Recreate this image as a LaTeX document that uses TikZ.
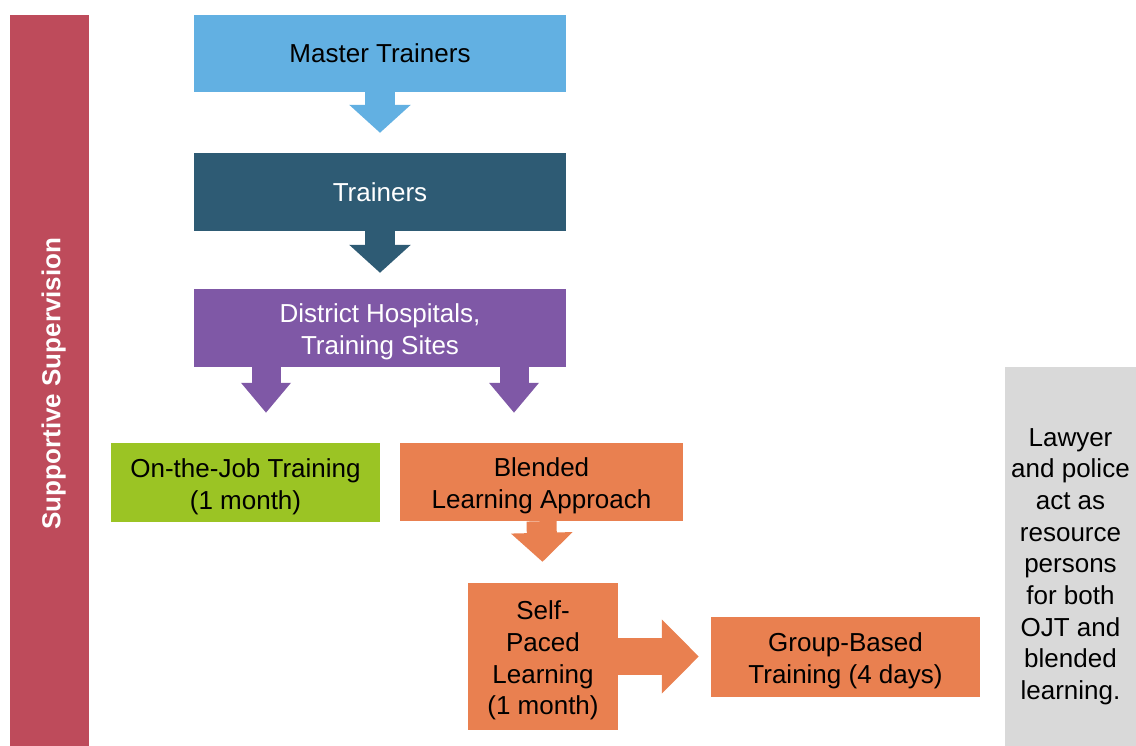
\documentclass[tikz,border=0pt]{standalone}
\usepackage{fontspec}
\setmainfont{Liberation Sans}
\usetikzlibrary{arrows.meta}

\definecolor{cSup}{HTML}{BE4B5B}
\definecolor{cMaster}{HTML}{62B0E2}
\definecolor{cTrainer}{HTML}{2E5B74}
\definecolor{cDistrict}{HTML}{7F58A6}
\definecolor{cOJT}{HTML}{9BC424}
\definecolor{cBlend}{HTML}{E98050}
\definecolor{cGray}{HTML}{D9D9D9}

\newcommand{\tstrut}{\rule{0pt}{27pt}}

\tikzset{
  box/.style={inner sep=0pt, align=center, font=\fontsize{26}{31.7}\selectfont},
  blockdown/.style={line width=30pt, -{Triangle[width=60pt,length=28pt]}},
}

\begin{document}
\begin{tikzpicture}[x=1pt, y=1pt]
\useasboundingbox (0,0) rectangle (1136,-746);
\node[box, fill=cSup, text=white, rotate=90, minimum width=737pt, minimum height=79pt] (sup) at (49.5,-383.5) {\tstrut\bfseries Supportive Supervision};
\node[box, fill=cMaster, minimum width=372pt, minimum height=77pt] (mt) at (380,-53.5) {Master Trainers};
\node[box, fill=cTrainer, text=white, minimum width=372pt, minimum height=78pt] (tr) at (380,-192) {Trainers};
\node[box, fill=cDistrict, text=white, minimum width=372pt, minimum height=78pt] (dh) at (380,-328) {\tstrut District Hospitals,\\Training Sites};
\node[box, fill=cOJT, minimum width=269pt, minimum height=79pt] (ojt) at (245.5,-482.5) {\tstrut On-the-Job Training\\(1 month)};
\node[box, fill=cBlend, minimum width=283pt, minimum height=78pt] (bl) at (541.5,-482) {\tstrut Blended\\Learning Approach};
\node[box, fill=cBlend, minimum width=150pt, minimum height=147pt] (sp) at (543,-656.5) {\tstrut Self-\\Paced\\Learning\\(1 month)};
\node[box, fill=cBlend, minimum width=269pt, minimum height=80pt] (gb) at (845.5,-657) {\tstrut Group-Based\\Training (4 days)};
\node[box, fill=cGray, minimum width=131pt, minimum height=390pt] (res) at (1070.5,-562) {\tstrut Lawyer\\and police\\act as\\resource\\persons\\for both\\OJT and\\blended\\learning.};

\coordinate (dl) at ([xshift=-114pt]dh.south);
\coordinate (dr) at ([xshift=134pt]dh.south);

\draw[blockdown, cMaster, shorten >=20pt] (mt.south) -- (tr.north);
\draw[blockdown, cTrainer, shorten >=16pt] (tr.south) -- (dh.north);
\draw[blockdown, cDistrict, line width=29pt, -{Triangle[width=48pt,length=30pt]}, shorten >=30pt] (dl) -- (dl |- ojt.north);
\draw[blockdown, cDistrict, line width=29pt, -{Triangle[width=48pt,length=30pt]}, shorten >=30pt] (dr) -- (dr |- bl.north);
\draw[blockdown, cBlend, -{Triangle[width=60pt,length=29pt]}, shorten >=21pt] (bl.south) -- (sp.north);
\draw[blockdown, cBlend, line width=37pt, -{Triangle[width=72pt,length=37pt]}, shorten >=12pt] (sp.east) -- (sp.east -| gb.west);
\end{tikzpicture}
\end{document}
